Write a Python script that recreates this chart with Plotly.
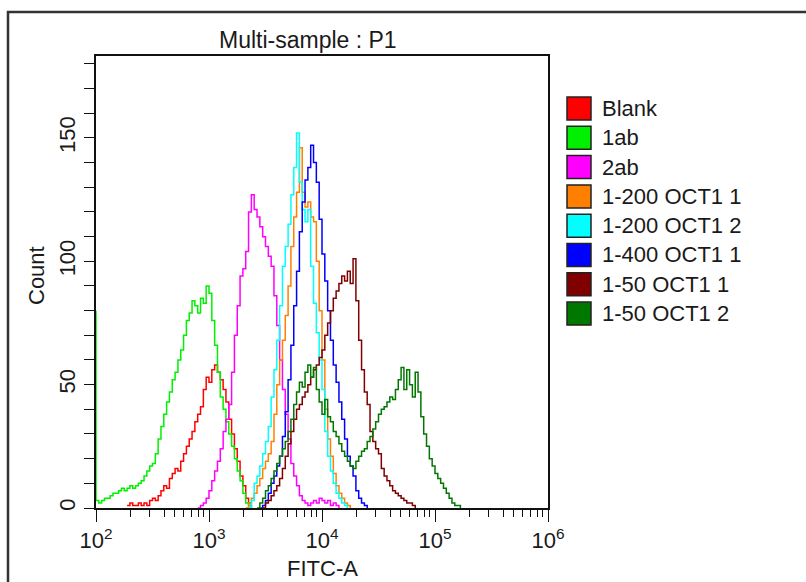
import plotly.graph_objects as go

# ---------------- data ----------------
SERIES_NAMES = ["Blank", "1ab", "2ab", "1-200 OCT1 1", "1-200 OCT1 2",
                "1-400 OCT1 1", "1-50 OCT1 1", "1-50 OCT1 2"]
SERIES_COLORS = ["#FF0000", "#00F000", "#FF00FF", "#FF8000", "#00FFFF",
                 "#0000FF", "#800000", "#007800"]

BIN_STEP = 0.025  # decades per histogram bin

# first bin (log10 FITC-A) of each series
BLANK_START = 2.275
ONEAB_START = 2.0
TWOAB_START = 2.90
OCT200_1_START = 3.325
OCT200_2_START = 3.35
OCT400_1_START = 3.45
OCT50_1_START = 3.475
OCT50_2_START = 3.425

ONEAB_EDGE_COUNT = 80  # events piled at the low edge of the 1ab histogram

BLANK_COUNTS = [1, 2, 1, 1, 2, 1, 2, 1, 3, 4, 3, 5, 7, 9, 8, 12, 14, 16, 15, 19,
                22, 25, 28, 31, 35, 38, 41, 48, 53, 51, 56, 58, 55, 52, 48, 43,
                36, 30, 24, 19, 13, 9, 4, 2, 0]
ONEAB_COUNTS = [3, 2, 3, 4, 4, 5, 6, 6, 7, 8, 7, 8, 9, 8, 9, 10, 11, 13, 15, 17,
                18, 22, 28, 33, 38, 43, 47, 52, 55, 60, 64, 70, 76, 79, 84, 82,
                79, 85, 83, 90, 87, 76, 66, 55, 45, 40, 35, 30, 25, 20, 15, 11,
                6, 2, 1, 0]
TWOAB_COUNTS = [0, 1, 2, 4, 7, 11, 15, 19, 24, 31, 36, 42, 55, 70, 82, 94, 97,
                104, 120, 127, 121, 118, 114, 110, 106, 102, 98, 86, 74, 60, 48,
                38, 28, 18, 13, 9, 5, 3, 2, 1, 2, 3, 2, 4, 3, 2, 3, 1, 2, 1, 0]
OCT200_1_COUNTS = [0, 2, 4, 6, 9, 12, 16, 19, 22, 27, 38, 50, 60, 68, 78, 90,
                   106, 118, 128, 146, 128, 122, 124, 118, 116, 100, 80, 60, 40,
                   28, 21, 14, 9, 6, 4, 2, 1, 0]
OCT200_2_COUNTS = [0, 3, 10, 13, 17, 22, 27, 33, 45, 56, 68, 82, 98, 106, 115,
                   127, 138, 152, 132, 121, 116, 121, 98, 83, 71, 60, 48, 31, 21,
                   15, 10, 6, 4, 2, 1, 0]
OCT400_1_COUNTS = [0, 1, 3, 6, 10, 13, 17, 21, 29, 39, 52, 66, 82, 96, 112, 124,
                   133, 138, 147, 140, 132, 117, 103, 92, 80, 68, 58, 51, 43, 36,
                   28, 21, 17, 13, 7, 4, 2, 1, 0]
OCT50_1_COUNTS = [0, 2, 3, 5, 7, 9, 12, 16, 21, 26, 31, 36, 40, 42, 45, 47, 50,
                  53, 56, 58, 61, 64, 70, 75, 80, 85, 88, 91, 94, 92, 96, 91, 101,
                  84, 68, 56, 47, 42, 31, 27, 24, 22, 16, 13, 11, 9, 7, 6, 5, 4,
                  3, 2, 2, 1, 0]
OCT50_2_COUNTS = [0, 2, 4, 7, 9, 12, 15, 18, 21, 24, 27, 31, 36, 42, 47, 51, 49,
                  55, 58, 53, 57, 48, 43, 38, 44, 37, 35, 31, 29, 26, 23, 21, 19,
                  17, 16, 19, 21, 23, 24, 27, 29, 32, 35, 38, 40, 41, 43, 45, 44,
                  48, 52, 57, 48, 56, 50, 45, 55, 47, 37, 30, 25, 20, 17, 14, 12,
                  10, 8, 6, 4, 2, 1, 1, 0]

X_TICK_VALUES = [1e2, 1e3, 1e4, 1e5, 1e6]
X_TICK_EXPONENTS = [2, 3, 4, 5, 6]
Y_TICK_VALUES = [0, 50, 100, 150]

TITLE = "Multi-sample : P1"
X_TITLE = "FITC-A"
Y_TITLE = "Count"

# ---------------- figure ----------------
W, H = 806, 582
PL, PR, PT, PB = 96, 548, 56, 508  # plot area in pixels
PW, PH = PR - PL, PB - PT


def px_x(p):
    return (p - PL) / PW


def px_y(p):
    return (PB - p) / PH


def bins(start, n):
    return [10 ** (start + i * BIN_STEP) for i in range(n)]


series = [
    (bins(BLANK_START, len(BLANK_COUNTS)), BLANK_COUNTS),
    ([10 ** ONEAB_START] + bins(ONEAB_START, len(ONEAB_COUNTS)),
     [ONEAB_EDGE_COUNT] + ONEAB_COUNTS),
    (bins(TWOAB_START, len(TWOAB_COUNTS)), TWOAB_COUNTS),
    (bins(OCT200_1_START, len(OCT200_1_COUNTS)), OCT200_1_COUNTS),
    (bins(OCT200_2_START, len(OCT200_2_COUNTS)), OCT200_2_COUNTS),
    (bins(OCT400_1_START, len(OCT400_1_COUNTS)), OCT400_1_COUNTS),
    (bins(OCT50_1_START, len(OCT50_1_COUNTS)), OCT50_1_COUNTS),
    (bins(OCT50_2_START, len(OCT50_2_COUNTS)), OCT50_2_COUNTS),
]

fig = go.Figure()
for name, color, (xs, ys) in zip(SERIES_NAMES, SERIES_COLORS, series):
    fig.add_trace(go.Scatter(x=xs, y=ys, mode="lines", name=name,
                             line=dict(color=color, width=1.5, shape="hv"),
                             showlegend=False))

FONT = "Liberation Sans, Arial, sans-serif"
TXT = "#1a1a1a"

x_minor = [m * 10 ** e for e in X_TICK_EXPONENTS[:-1] for m in range(2, 10)]

fig.update_xaxes(type="log", range=[2, 6], showgrid=False, zeroline=False,
                 showline=True, linecolor="#111", linewidth=1.5, mirror=True,
                 ticks="outside", ticklen=12, tickwidth=1.3, tickcolor="#111",
                 tickvals=X_TICK_VALUES,
                 ticktext=[f"10<sup>{e}</sup>" for e in X_TICK_EXPONENTS],
                 tickfont=dict(family=FONT, size=22, color=TXT),
                 minor=dict(tickmode="array", tickvals=x_minor, ticks="outside",
                            ticklen=7, tickwidth=1.3, tickcolor="#111"),
                 layer="below traces")
fig.update_yaxes(range=[0, PH / 2.467], showgrid=False, zeroline=False,
                 showline=True, linecolor="#111", linewidth=1.5, mirror=True,
                 ticks="outside", ticklen=10, tickwidth=1.3, tickcolor="#111",
                 tickvals=Y_TICK_VALUES, tickangle=-90,
                 tickfont=dict(family=FONT, size=22, color=TXT),
                 minor=dict(dtick=10, ticks="outside", ticklen=10, tickwidth=1.3,
                            tickcolor="#111"),
                 layer="below traces")

shapes = [dict(type="rect", xref="paper", yref="paper",
               x0=px_x(8), x1=px_x(W + 60), y0=px_y(H + 60), y1=px_y(12),
               line=dict(color="#333", width=2.5), fillcolor="rgba(0,0,0,0)")]
annotations = [
    dict(text=TITLE, x=px_x(308), y=px_y(40), xref="paper", yref="paper",
         showarrow=False, xanchor="center", yanchor="middle",
         font=dict(family=FONT, size=23, color=TXT)),
    dict(text=X_TITLE, x=px_x(322), y=px_y(568), xref="paper", yref="paper",
         showarrow=False, xanchor="center", yanchor="middle",
         font=dict(family=FONT, size=22, color=TXT)),
    dict(text=Y_TITLE, x=px_x(36), y=px_y(275), xref="paper", yref="paper",
         showarrow=False, xanchor="center", yanchor="middle", textangle=-90,
         font=dict(family=FONT, size=22, color=TXT)),
]

LEG_Y0, LEG_DY = 108.5, 29.3
for i, (name, color) in enumerate(zip(SERIES_NAMES, SERIES_COLORS)):
    cy = LEG_Y0 + i * LEG_DY
    shapes.append(dict(type="rect", xref="paper", yref="paper",
                       x0=px_x(567), x1=px_x(591), y0=px_y(cy + 11.5), y1=px_y(cy - 11.5),
                       line=dict(color="#222", width=1.5), fillcolor=color))
    annotations.append(dict(text=name, x=px_x(600), y=px_y(cy), xref="paper",
                            yref="paper", showarrow=False, xanchor="left",
                            yanchor="middle",
                            font=dict(family=FONT, size=22, color=TXT)))

fig.update_layout(width=W, height=H, margin=dict(l=PL, r=W - PR, t=PT, b=H - PB),
                  paper_bgcolor="white", plot_bgcolor="white",
                  shapes=shapes, annotations=annotations, showlegend=False)

fig.write_html("out.html")
